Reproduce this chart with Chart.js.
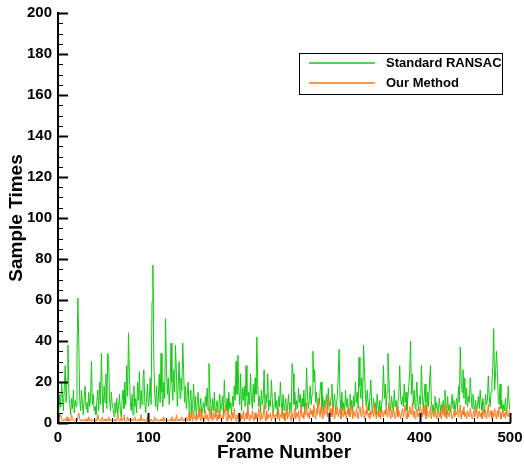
<!DOCTYPE html>
<html>
<head>
<meta charset="utf-8">
<script src="https://cdn.jsdelivr.net/npm/chart.js@4.4.1/dist/chart.umd.min.js"></script>
<style>
  html, body { margin: 0; padding: 0; background: #fff; }
  #wrap { width: 524px; height: 464px; }
</style>
</head>
<body>
<div id="wrap"><canvas id="chart" width="524" height="464"></canvas></div>
<script>
// frame index 1..500
const frames = Array.from({ length: 500 }, (_, i) => i + 1);

// Standard RANSAC sample times in blocks of 20 frames
const ransac = [
  5, 14, 8, 20, 12, 6, 18, 28, 10, 22, 38, 15, 9, 4, 12, 7, 16, 5, 11, 8,
  33, 61, 40, 12, 6, 16, 9, 4, 13, 18, 7, 10, 5, 15, 8, 12, 30, 9, 14, 6,
  8, 4, 11, 16, 6, 20, 9, 34, 14, 5, 18, 10, 24, 7, 34, 31, 12, 6, 15, 9,
  7, 3, 10, 5, 12, 4, 8, 14, 6, 3, 11, 16, 7, 20, 9, 28, 13, 44, 24, 10,
  6, 14, 4, 18, 8, 12, 5, 20, 11, 25, 7, 16, 9, 22, 26, 10, 5, 13, 19, 8,
  12, 22, 9, 59, 77, 30, 14, 8, 18, 6, 12, 24, 10, 34, 15, 8, 20, 12, 51, 26,
  14, 22, 9, 18, 39, 20, 11, 26, 15, 38, 24, 8, 19, 30, 12, 22, 16, 39, 25, 10,
  18, 7, 14, 20, 5, 11, 16, 4, 9, 19, 6, 13, 3, 10, 15, 5, 8, 12, 4, 7,
  10, 5, 13, 8, 17, 6, 29, 14, 9, 4, 12, 6, 15, 3, 8, 11, 5, 9, 14, 6,
  8, 13, 4, 21, 9, 6, 12, 5, 15, 7, 10, 4, 13, 8, 18, 11, 30, 14, 33, 16,
  9, 24, 6, 17, 11, 18, 8, 28, 13, 5, 15, 9, 24, 12, 7, 19, 10, 22, 14, 42,
  18, 8, 13, 5, 16, 9, 12, 26, 7, 14, 10, 24, 6, 11, 8, 21, 12, 5, 9, 15,
  7, 11, 4, 13, 8, 20, 10, 5, 14, 6, 9, 12, 4, 8, 14, 6, 10, 5, 29, 24,
  9, 15, 6, 11, 7, 17, 10, 14, 5, 12, 8, 16, 6, 10, 27, 13, 7, 11, 18, 9,
  14, 35, 20, 26, 10, 15, 7, 12, 9, 16, 20, 8, 13, 6, 11, 9, 14, 7, 17, 10,
  8, 12, 19, 6, 10, 14, 5, 9, 13, 24, 36, 11, 7, 15, 6, 10, 4, 16, 8, 12,
  5, 9, 14, 7, 11, 6, 13, 8, 20, 10, 15, 7, 32, 18, 12, 22, 9, 38, 26, 14,
  8, 16, 10, 6, 13, 21, 9, 5, 12, 7, 10, 4, 14, 8, 6, 11, 5, 9, 13, 28,
  12, 19, 8, 15, 34, 22, 10, 6, 13, 9, 5, 16, 8, 11, 6, 10, 14, 28, 12, 9,
  13, 8, 19, 10, 15, 6, 12, 18, 24, 40, 14, 24, 9, 16, 7, 12, 20, 10, 6, 13,
  9, 28, 14, 7, 12, 19, 10, 5, 15, 8, 20, 28, 11, 6, 9, 4, 13, 7, 10, 5,
  8, 12, 5, 9, 6, 11, 7, 16, 10, 4, 13, 6, 9, 5, 8, 14, 7, 11, 5, 9,
  12, 6, 18, 10, 37, 20, 15, 26, 12, 22, 9, 17, 8, 13, 10, 22, 14, 7, 14, 9,
  6, 11, 5, 9, 13, 7, 16, 10, 6, 12, 8, 5, 14, 9, 11, 23, 13, 8, 15, 20,
  28, 46, 16, 24, 35, 26, 12, 9, 19, 7, 11, 5, 9, 6, 12, 4, 8, 18, 10, 6
];

// Our Method sample times
const ours = [
  4, 3, 4, 2, 1, 1, 2, 1, 1, 3, 1, 1, 2, 1, 4, 2, 1, 1, 1, 2,
  1, 3, 5, 2, 1, 1, 2, 1, 1, 1, 2, 1, 1, 3, 1, 1, 2, 1, 1, 1,
  1, 2, 1, 4, 2, 1, 1, 1, 3, 1, 1, 2, 1, 1, 1, 3, 1, 2, 1, 1,
  1, 1, 2, 1, 1, 5, 2, 1, 1, 3, 1, 2, 4, 1, 1, 1, 3, 1, 2, 1,
  1, 2, 1, 1, 3, 1, 1, 1, 2, 1, 1, 4, 1, 1, 2, 1, 1, 1, 3, 1,
  1, 1, 2, 1, 1, 1, 3, 1, 1, 2, 1, 1, 1, 2, 1, 1, 3, 1, 1, 2,
  1, 1, 1, 2, 1, 3, 1, 1, 2, 1, 4, 1, 1, 2, 1, 1, 3, 1, 1, 2,
  1, 3, 1, 2, 5, 1, 2, 4, 1, 6, 2, 3, 1, 4, 2, 7, 3, 1, 5, 2,
  3, 1, 6, 2, 4, 1, 3, 8, 2, 4, 1, 5, 2, 3, 7, 1, 4, 2, 6, 3,
  1, 4, 2, 5, 8, 3, 1, 6, 2, 4, 3, 1, 5, 2, 7, 3, 1, 4, 2, 5,
  3, 1, 4, 2, 6, 1, 3, 5, 2, 8, 3, 1, 4, 2, 6, 3, 1, 5, 2, 4,
  2, 7, 3, 1, 5, 2, 4, 9, 3, 1, 6, 2, 4, 3, 5, 1, 3, 6, 2, 4,
  3, 5, 2, 7, 1, 4, 3, 6, 2, 5, 1, 3, 8, 2, 4, 6, 3, 1, 5, 2,
  4, 7, 2, 5, 3, 6, 1, 4, 8, 3, 5, 2, 6, 4, 10, 3, 5, 2, 7, 4,
  6, 3, 9, 5, 2, 7, 4, 12, 6, 3, 8, 5, 2, 6, 4, 10, 5, 3, 13, 6,
  4, 7, 3, 9, 5, 2, 6, 4, 8, 3, 5, 7, 2, 6, 4, 3, 8, 5, 2, 6,
  4, 7, 3, 5, 9, 2, 6, 4, 3, 7, 5, 2, 6, 8, 4, 3, 10, 5, 2, 6,
  4, 8, 3, 5, 2, 6, 4, 7, 3, 5, 9, 2, 4, 6, 3, 5, 2, 7, 4, 3,
  6, 4, 8, 3, 5, 10, 4, 2, 6, 3, 7, 5, 2, 4, 8, 3, 6, 4, 2, 5,
  7, 3, 5, 9, 4, 2, 6, 3, 8, 5, 4, 10, 3, 6, 2, 5, 7, 3, 4, 6,
  8, 5, 3, 7, 4, 9, 2, 6, 4, 3, 5, 8, 2, 6, 4, 3, 7, 5, 2, 4,
  6, 3, 5, 2, 7, 4, 9, 3, 5, 2, 6, 4, 3, 8, 5, 2, 4, 6, 3, 5,
  4, 7, 3, 5, 9, 2, 6, 4, 8, 3, 5, 2, 6, 4, 3, 7, 5, 2, 4, 6,
  3, 5, 8, 2, 4, 6, 3, 5, 2, 7, 4, 3, 6, 2, 5, 9, 3, 4, 6, 2,
  5, 3, 7, 4, 2, 6, 3, 8, 5, 2, 4, 6, 3, 5, 2, 7, 4, 3, 5, 6
];

const seriesNames = ["Standard RANSAC", "Our Method"];
const seriesColors = ["#14c814", "#ff7418"];

// inward ticks, major + minor, like the original plot
const tickPlugin = {
  id: "inwardTicks",
  afterDraw(chart) {
    const { ctx, chartArea, scales } = chart;
    ctx.save();
    ctx.strokeStyle = "#000";
    for (let v = 0; v <= 200; v += 5) {
      const y = Math.round(scales.y.getPixelForValue(v)) + 0.5;
      const major = v % 20 === 0;
      ctx.lineWidth = major ? 2 : 1;
      ctx.beginPath();
      ctx.moveTo(chartArea.left, y);
      ctx.lineTo(chartArea.left + (major ? 10 : 5), y);
      ctx.stroke();
    }
    for (let v = 0; v <= 500; v += 20) {
      const x = Math.round(scales.x.getPixelForValue(v)) + 0.5;
      const major = v % 100 === 0;
      ctx.lineWidth = major ? 2 : 1;
      ctx.beginPath();
      ctx.moveTo(x, chartArea.bottom);
      ctx.lineTo(x, chartArea.bottom - (major ? 10 : 5));
      ctx.stroke();
    }
    ctx.restore();
  }
};

// boxed legend in the upper right
const legendBox = {
  id: "legendBox",
  afterDraw(chart) {
    const ctx = chart.ctx;
    ctx.save();
    ctx.strokeStyle = "#000";
    ctx.lineWidth = 1;
    ctx.strokeRect(299.5, 53.5, 203, 41);
    ctx.font = "bold 13px Arial, 'Liberation Sans', sans-serif";
    ctx.textBaseline = "middle";
    ctx.fillStyle = "#000";
    const rows = [63, 83];
    seriesNames.forEach((name, i) => {
      ctx.strokeStyle = seriesColors[i];
      ctx.lineWidth = 1.5;
      ctx.beginPath();
      ctx.moveTo(309, rows[i]);
      ctx.lineTo(375, rows[i]);
      ctx.stroke();
      ctx.fillText(name, 386, rows[i]);
    });
    ctx.restore();
  }
};

const tickFont = { family: "Arial, 'Liberation Sans', sans-serif", size: 15, weight: "bold" };
const titleFont = { family: "Arial, 'Liberation Sans', sans-serif", size: 19, weight: "bold", lineHeight: 1 };

new Chart(document.getElementById("chart"), {
  type: "line",
  data: {
    labels: frames,
    datasets: [
      {
        label: seriesNames[0],
        data: ransac,
        borderColor: seriesColors[0],
        borderWidth: 1,
        pointRadius: 0,
        tension: 0,
        order: 2,
      },
      {
        label: seriesNames[1],
        data: ours,
        borderColor: seriesColors[1],
        borderWidth: 1,
        pointRadius: 0,
        tension: 0,
        order: 1,
      },
    ],
  },
  options: {
    responsive: false,
    animation: false,
    layout: { padding: { top: 13, right: 14, left: 0, bottom: 0 } },
    plugins: { legend: { display: false }, tooltip: { enabled: false } },
    scales: {
      x: {
        type: "linear",
        min: 0,
        max: 500,
        ticks: { stepSize: 100, color: "#000", font: tickFont, padding: 6, maxRotation: 0 },
        grid: { display: false, drawTicks: false },
        border: { color: "#000", width: 2 },
        title: { display: true, text: "Frame Number", color: "#000", font: titleFont, padding: { top: 0, bottom: 2 } },
        afterFit(scale) {
          scale.height = 41;
          scale.paddingLeft = 0;
          scale.paddingRight = 0;
        },
      },
      y: {
        min: 0,
        max: 200,
        ticks: { stepSize: 20, color: "#000", font: tickFont, padding: 6 },
        grid: { display: false, drawTicks: false },
        border: { color: "#000", width: 2 },
        title: { display: true, text: "Sample Times", color: "#000", font: titleFont, padding: { top: 7, bottom: 0 } },
        afterFit(scale) {
          scale.width = 58;
          scale.paddingTop = 0;
          scale.paddingBottom = 0;
        },
      },
    },
  },
  plugins: [tickPlugin, legendBox],
});
</script>
</body>
</html>
